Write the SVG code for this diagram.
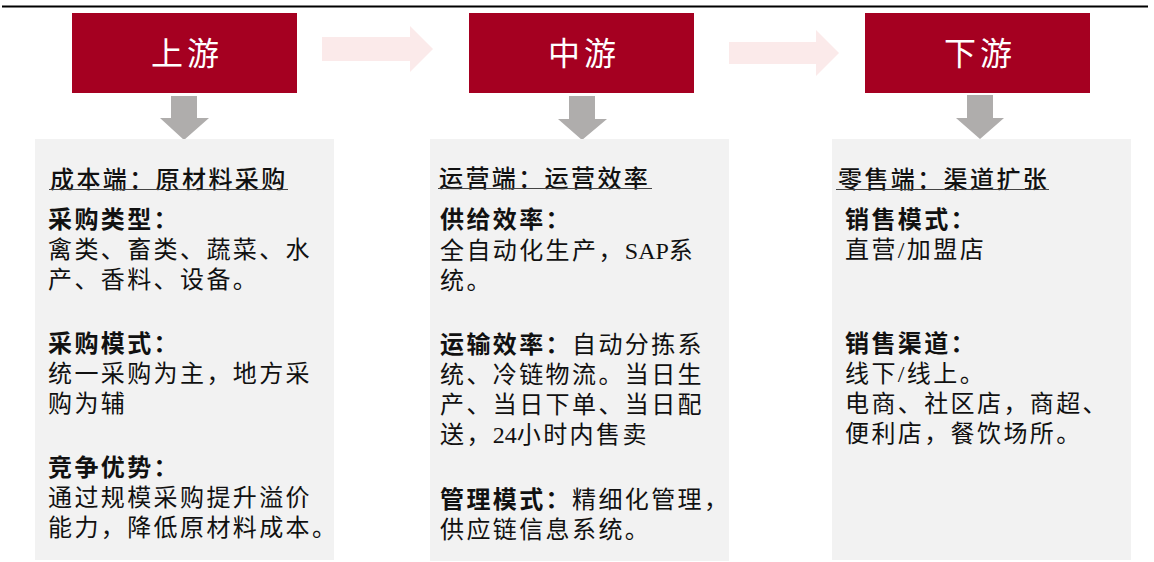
<svg xmlns="http://www.w3.org/2000/svg" width="1154" height="562" viewBox="0 0 1154 562">
<style>
.title{font-family:"Liberation Serif","Noto Sans CJK SC",serif;font-size:32px;fill:#fff;text-anchor:middle;letter-spacing:4px}
.t{font-family:"Liberation Serif","Noto Sans CJK SC",serif;font-size:24px;fill:#111;letter-spacing:2.4px}
.lat{letter-spacing:0}
.h{font-weight:500}
.b{font-weight:bold}
.red{fill:#A50021}
.panel{fill:#F2F2F2}
.pink{fill:#FBEAEA}
.gray{fill:#AFADAC}
.ul{stroke:#444;stroke-width:1}
</style>
<line x1="2" y1="6.5" x2="1148" y2="6.5" stroke="#000" stroke-width="2"/>
<g id="connectors">
<polygon class="pink" points="322,37 410,37 410,26 433,49 410,72 410,61 322,61"/>
<polygon class="pink" points="729,42 816,42 816,30 839,53 816,76 816,64 729,64"/>
<polygon class="gray" points="171,96 197,96 197,118 209,118 184,140 160,118 171,118"/>
<polygon class="gray" points="569,96 595,96 595,119 607,119 582,140 558,119 569,119"/>
<polygon class="gray" points="967,95 993,95 993,118 1004,118 980,139 956,118 967,118"/>
</g>
<g id="upstream">
<rect class="red" x="72" y="13" width="225" height="80"/>
<text class="title" x="187" y="65">上游</text>
</g>
<g id="midstream">
<rect class="red" x="469" y="13" width="225" height="80"/>
<text class="title" x="584" y="65">中游</text>
</g>
<g id="downstream">
<rect class="red" x="865" y="13" width="225" height="80"/>
<text class="title" x="980" y="65">下游</text>
</g>
<g id="upstream-detail">
<rect class="panel" x="35" y="139" width="299" height="421"/>
<text class="t h" x="50" y="188">成本端：原材料采购</text>
<line class="ul" x1="49" y1="189.5" x2="288" y2="189.5"/>
<text class="t b" x="48" y="228">采购类型：</text>
<text class="t" x="48" y="258">禽类、畜类、蔬菜、水</text>
<text class="t" x="48" y="288">产、香料、设备。</text>
<text class="t b" x="48" y="352">采购模式：</text>
<text class="t" x="48" y="382">统一采购为主，地方采</text>
<text class="t" x="48" y="412">购为辅</text>
<text class="t b" x="48" y="476">竞争优势：</text>
<text class="t" x="48" y="506">通过规模采购提升溢价</text>
<text class="t" x="48" y="536">能力，降低原材料成本。</text>
</g>
<g id="midstream-detail">
<rect class="panel" x="430" y="139" width="299" height="422"/>
<text class="t h" x="439" y="187">运营端：运营效率</text>
<line class="ul" x1="438" y1="188.5" x2="652" y2="188.5"/>
<text class="t b" x="440" y="228">供给效率：</text>
<text class="t" x="440" y="259">全自动化生产，<tspan class="lat">SAP</tspan>系</text>
<text class="t" x="440" y="289">统。</text>
<text class="t" x="440" y="353"><tspan class="b">运输效率：</tspan>自动分拣系</text>
<text class="t" x="440" y="383">统、冷链物流。当日生</text>
<text class="t" x="440" y="413">产、当日下单、当日配</text>
<text class="t" x="440" y="443">送，<tspan class="lat">24</tspan>小时内售卖</text>
<text class="t" x="440" y="508"><tspan class="b">管理模式：</tspan>精细化管理，</text>
<text class="t" x="440" y="538">供应链信息系统。</text>
</g>
<g id="downstream-detail">
<rect class="panel" x="832" y="139" width="299" height="421"/>
<text class="t h" x="838" y="188">零售端：渠道扩张</text>
<line class="ul" x1="836" y1="189.5" x2="1049" y2="189.5"/>
<text class="t b" x="845" y="228">销售模式：</text>
<text class="t" x="845" y="258">直营/加盟店</text>
<text class="t b" x="845" y="352">销售渠道：</text>
<text class="t" x="845" y="382">线下/线上。</text>
<text class="t" x="845" y="412">电商、社区店，商超、</text>
<text class="t" x="845" y="442">便利店，餐饮场所。</text>
</g>
</svg>
